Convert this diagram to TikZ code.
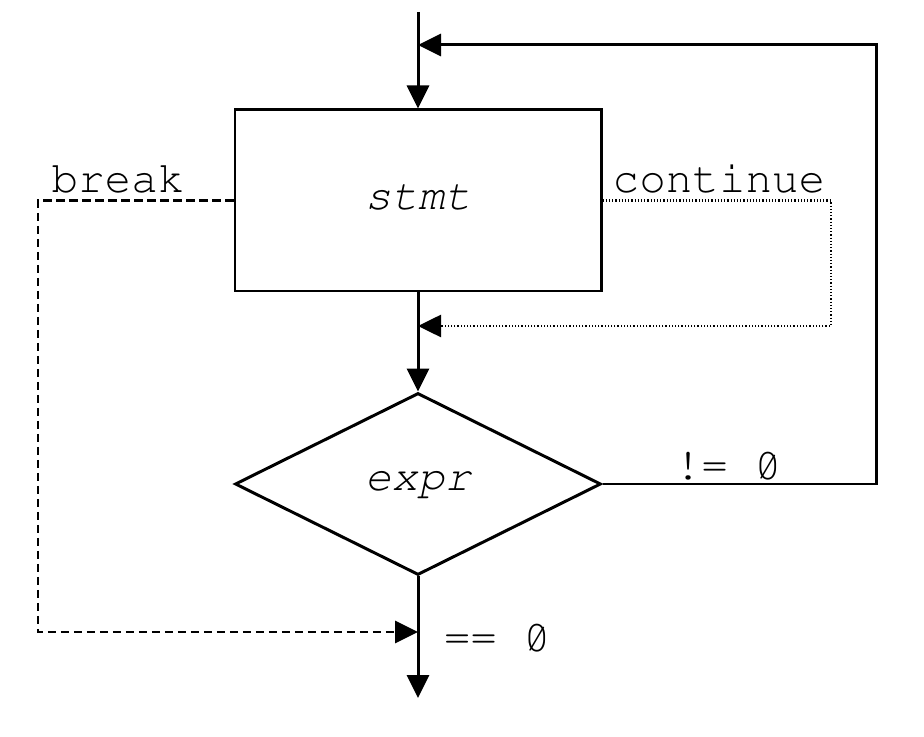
\documentclass[tikz,border=0pt]{standalone}
\usepackage[T1]{fontenc}
\usepackage{courier}
\usepackage{graphicx}
\usetikzlibrary{arrows.meta,shapes.geometric}
\newcommand\slzero{\ooalign{0\cr\hidewidth\raisebox{.15ex}{\scalebox{.9}[.72]{/}}\hidewidth\cr}}
\begin{document}
\begin{tikzpicture}[>={Triangle[length=2.3mm,width=2.2mm]},
    line width=0.85pt,
    txt/.style={font=\ttfamily\fontsize{12.6}{15}\selectfont,inner sep=0pt},
    stmtbox/.style={draw,rectangle,minimum width=3.66cm,minimum
        height=1.81cm,inner sep=0pt,font=\ttfamily\itshape\fontsize{12.6}{15}\selectfont},
    cond/.style={draw,diamond,aspect=2,minimum width=3.66cm,minimum
        height=1.82cm,inner sep=0pt,font=\ttfamily\itshape\fontsize{12.6}{15}\selectfont},
    brk/.style={dash pattern=on 0.85mm off 0.45mm},
    cnt/.style={line width=0.75pt,dash pattern=on 0.12mm off 0.2mm}]

    \useasboundingbox (0,0) rectangle (9.24,7.36);

    % the boxes

    \node[stmtbox] (stmt) at (4.18,5.355) {\raisebox{.6mm}{stmt}};
    \node[cond] (expr) at (4.18,2.52) {expr};

    \coordinate (in) at (4.18,7.24);
    \coordinate (loop) at (4.18,6.91);
    \coordinate (cin) at (4.18,4.10);
    \coordinate (bin) at (4.18,1.04);
    \coordinate (out) at (4.18,0.38);

    % the texts

    \node[txt] (brklabel) at (1.18,5.57) {break};
    \node[txt] (cntlabel) at (7.19,5.57) {continue};
    \node[txt] (nelabel) at (7.28,2.70) {!= \slzero};
    \node[txt] (eqlabel) at (4.97,0.99) {== \slzero};

    % the arrows

    \draw[->] (in) -- (stmt.north);
    \draw[->] (stmt.south) -- (expr.north);
    \draw[->] (expr.south) -- (out);
    \draw[->] (expr.east) -- (8.76,2.52) |- (loop);
    \draw[->,brk] (stmt.west) -- (0.38,5.355) |- (bin);
    \draw[->,cnt] (stmt.east) -- (8.31,5.355) |- (cin);
\end{tikzpicture}
\end{document}
